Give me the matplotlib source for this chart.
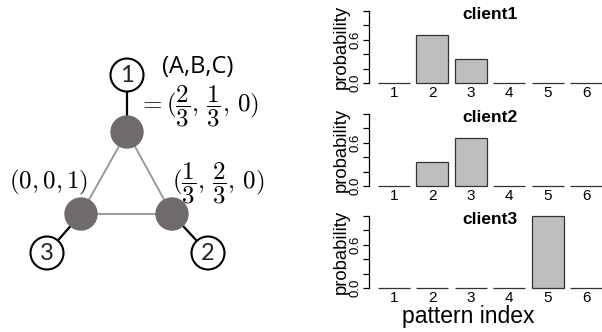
import numpy as np
import matplotlib.pyplot as plt
from matplotlib.patches import Circle

plt.rcParams['mathtext.fontset'] = 'cm'
plt.rcParams['font.family'] = ['Liberation Sans', 'DejaVu Sans']

# data
patterns = ['1', '2', '3', '4', '5', '6']
clients = ['client1', 'client2', 'client3']
client1 = [0, 2/3, 1/3, 0, 0, 0]
client2 = [0, 1/3, 2/3, 0, 0, 0]
client3 = [0, 0, 0, 0, 1, 0]
probs = [client1, client2, client3]

W, H = 602, 332
fig = plt.figure(figsize=(W / 100, H / 100), dpi=100)

# ---- left: diagram (pixel coordinates) ----
ax = fig.add_axes([0, 0, 1, 1])
ax.set_xlim(0, W)
ax.set_ylim(H, 0)
ax.axis('off')

gray_nodes = {'t': (127, 132), 'l': (81, 214), 'r': (172, 214)}
num_nodes = {'1': (127, 75), '2': (208, 253), '3': (47, 253)}
links = [('1', 't'), ('2', 'r'), ('3', 'l')]

for a, b in [('t', 'l'), ('t', 'r'), ('l', 'r')]:
    (x0, y0), (x1, y1) = gray_nodes[a], gray_nodes[b]
    ax.plot([x0, x1], [y0, y1], color='#9a9a9a', lw=1.4, zorder=1)
for n, g in links:
    (x0, y0), (x1, y1) = num_nodes[n], gray_nodes[g]
    ax.plot([x0, x1], [y0, y1], color='black', lw=1.6, zorder=1)
for k, (x, y) in gray_nodes.items():
    ax.add_patch(Circle((x, y), 16, color='#6f6b6b', zorder=2))
for k, (x, y) in num_nodes.items():
    ax.add_patch(Circle((x, y), 16.5, facecolor='white', edgecolor='black', lw=1.5, zorder=3))
    ax.text(x, y + 1, k, ha='center', va='center', fontsize=17, family='Lato',
            color='#222222', zorder=4)

ax.text(198, 67, '(A,B,C)', ha='center', va='center', fontsize=17, family='Open Sans')
ax.text(138, 106, r'$=(\dfrac{2}{3},\,\dfrac{1}{3},\,0)$', ha='left', va='center', fontsize=18)
ax.text(88, 182, r'$(0,0,1)$', ha='right', va='center', fontsize=18)
ax.text(172, 183, r'$(\dfrac{1}{3},\,\dfrac{2}{3},\,0)$', ha='left', va='center', fontsize=18)

# ---- right: bar charts ----
xs = 0.2 + 1.2 * np.arange(len(patterns))
zeros = [83, 186, 288]
ppu = 72.0  # pixels per unit probability
xl, xr = -0.08, 7.48
for i, (name, p) in enumerate(zip(clients, probs)):
    z = zeros[i]
    bottom = z + 0.04 * ppu
    height = 1.08 * ppu
    bax = fig.add_axes([369 / W, 1 - bottom / H, 242 / W, height / H])
    bax.bar(xs, p, width=1, align='edge', color='#bebebe', edgecolor='#333333', lw=0.9)
    bax.set_xlim(xl, xr)
    bax.set_ylim(-0.04, 1.04)
    for s in ['top', 'right', 'bottom']:
        bax.spines[s].set_visible(False)
    bax.spines['left'].set_bounds(0, 1)
    bax.spines['left'].set_linewidth(0.9)
    bax.set_yticks([0, 0.2, 0.4, 0.6, 0.8, 1.0])
    bax.set_yticklabels(['0.0', '', '', '0.6', '', ''], rotation=90, va='center', fontsize=9.5)
    bax.tick_params(axis='y', length=4, width=0.9, pad=1.5)
    bax.set_xticks(xs + 0.5)
    bax.set_xticklabels(patterns, fontsize=11)
    bax.tick_params(axis='x', length=0, pad=0)
    bax.set_ylabel('probability', fontsize=13.3, labelpad=0)
    bax.text(0.5, 0.95, name, transform=bax.get_yaxis_transform(), ha='center', va='center',
             fontsize=12.5, fontweight='bold')
    bax.patch.set_visible(False)

fig.text(468 / W, 1 - 317 / H, 'pattern index', ha='center', va='center', fontsize=16.5)

fig.savefig('out.png', dpi=100)
